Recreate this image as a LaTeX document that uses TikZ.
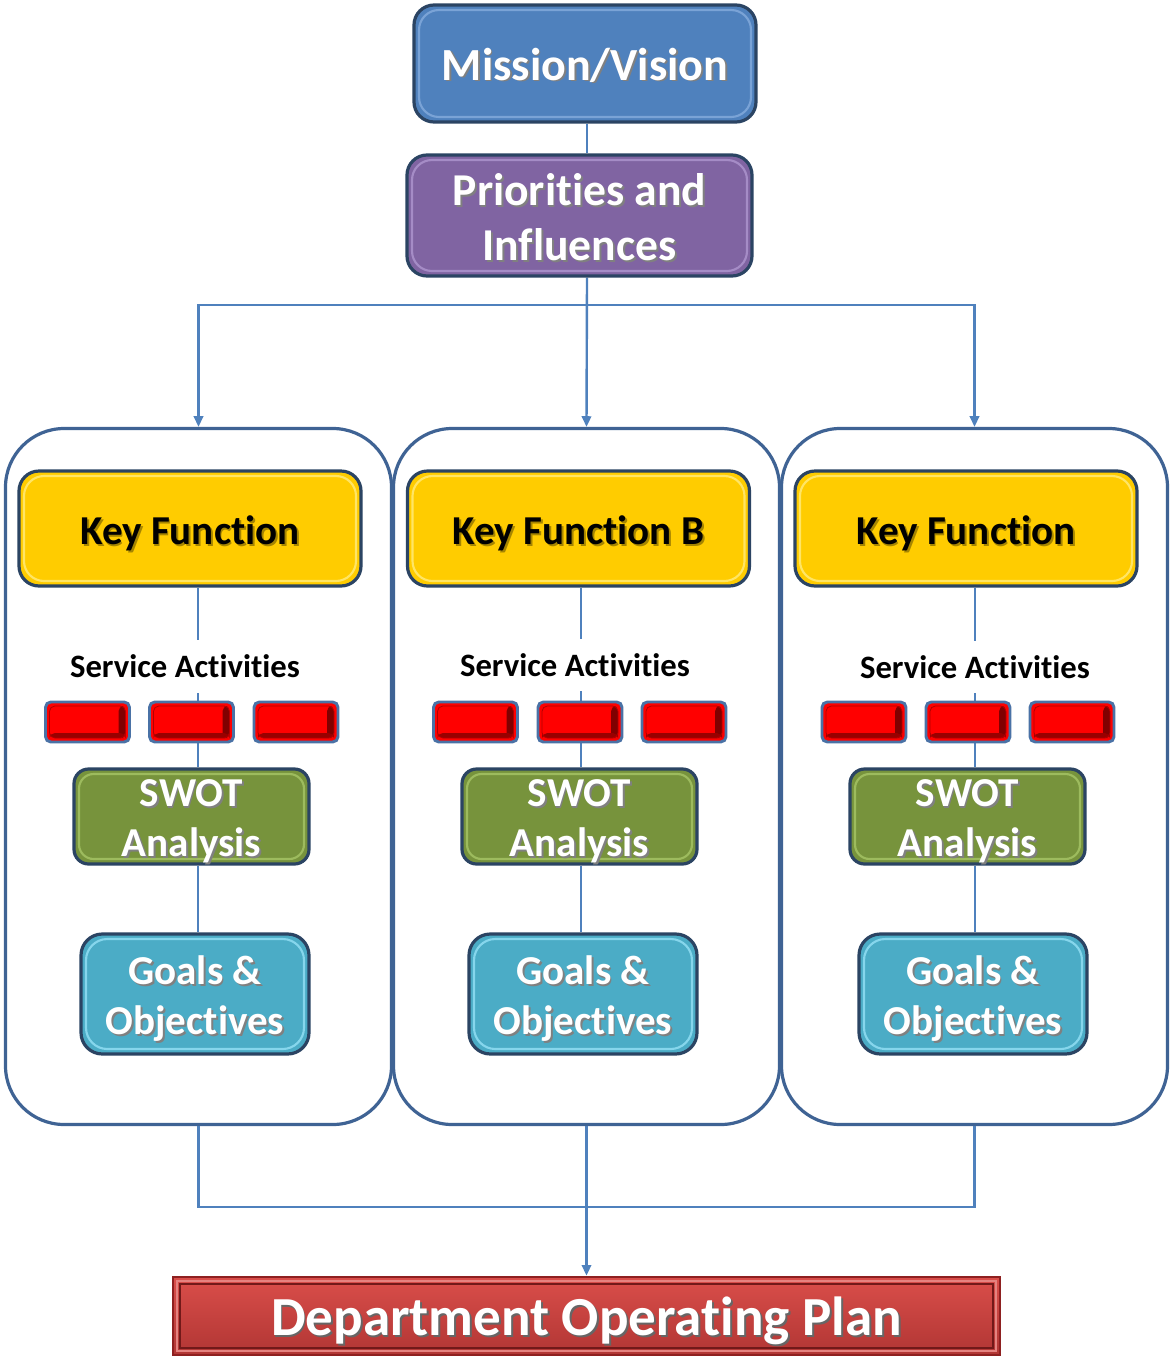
\documentclass[tikz,border=0pt]{standalone}
\usepackage{fontspec}
\setmainfont{Carlito}[Ligatures=NoCommon]
\usetikzlibrary{arrows.meta,backgrounds}
\definecolor{connc}{HTML}{4F81BD}
\definecolor{panelc}{HTML}{3F6394}
\definecolor{edgec}{HTML}{2B4463}
\definecolor{missc}{HTML}{4F81BD}
\definecolor{misshl}{HTML}{7AA3D6}
\definecolor{priorc}{HTML}{8064A2}
\definecolor{priorhl}{HTML}{A58CC6}
\definecolor{keyc}{HTML}{FFCC00}
\definecolor{keyhl}{HTML}{FFE566}
\definecolor{swotc}{HTML}{77933C}
\definecolor{swothl}{HTML}{9DBB5E}
\definecolor{goalc}{HTML}{4BACC6}
\definecolor{goalhl}{HTML}{86D6EC}
\definecolor{redbd}{HTML}{4A72A6}
\definecolor{plantop}{HTML}{DA4E4A}
\definecolor{planbot}{HTML}{B13634}
\definecolor{planbd}{HTML}{8E2020}
\newcommand{\PX}{0.75pt}
\newcommand{\lowerby}{4.2pt}
\newcommand{\shd}[2][black!50]{\leavevmode\raisebox{-\lowerby}[\height][\depth]{\rlap{\kern1.4pt\raisebox{-1.4pt}{\textcolor{#1}{#2}}}#2}}
\tikzset{
  bevelbox/.style n args={3}{fill=#1, draw=edgec, line width=2.4pt, inner sep=0pt,
    rounded corners=#3,
    path picture={\draw[#2, line width=1.6pt, rounded corners=#3]
      ([shift={(5,5)}]path picture bounding box.north west) rectangle
      ([shift={(-5,-5)}]path picture bounding box.south east);}},
  panelbox/.style={draw=panelc, line width=2.4pt, fill=white, rounded corners=44pt,
    minimum width=386*\PX, minimum height=696*\PX, inner sep=0pt},
  keybox/.style={bevelbox={keyc}{keyhl}{15pt}, minimum width=342*\PX, minimum height=115*\PX,
    font=\bfseries\fontsize{30.8pt}{36pt}\selectfont, text=black},
  swotbox/.style={bevelbox={swotc}{swothl}{11pt}, minimum width=235*\PX, minimum height=95*\PX,
    font=\bfseries\fontsize{30.8pt}{37.5pt}\selectfont, text=white, align=center},
  goalbox/.style={bevelbox={goalc}{goalhl}{16pt}, minimum width=228*\PX, minimum height=120*\PX,
    font=\bfseries\fontsize{30.8pt}{37.5pt}\selectfont, text=white, align=center},
  redbox/.style={fill=red, draw=redbd, line width=2.2pt, rounded corners=4pt,
    minimum width=84*\PX, minimum height=40*\PX, inner sep=0pt,
    path picture={
      \fill[red!50!black] ([shift={(-11,4)}]path picture bounding box.north east) rectangle
        ([shift={(-4,-4)}]path picture bounding box.south east);
      \fill[red!60!black] ([shift={(4,-9)}]path picture bounding box.south west) rectangle
        ([shift={(-4,-4)}]path picture bounding box.south east);
      \draw[red!70!black, line width=0.6pt] ([shift={(4,4)}]path picture bounding box.north west) rectangle
        ([shift={(-4,-4)}]path picture bounding box.south east);}},
  satext/.style={fill=white, minimum width=304*\PX, minimum height=52*\PX, inner sep=0pt,
    font=\bfseries\fontsize{24.5pt}{29pt}\selectfont, text=black},
  conn/.style={draw=connc, line width=1.8pt},
  arr/.style={conn, -{Triangle[length=8pt,width=7pt]}},
  toptext/.style={execute at begin node={\renewcommand{\lowerby}{1.8pt}}},
}
\begin{document}
\begin{tikzpicture}[x=0.75pt,y=-0.75pt]
\useasboundingbox (0,0) rectangle (1171,1357);

% panels
\begin{scope}[on background layer]
\node[panelbox] (pA) at (198.5,776.5) {};
\node[panelbox] (pB) at (586.5,776.5) {};
\node[panelbox] (pC) at (974.5,776.5) {};
\end{scope}

% top boxes
\node[bevelbox={missc}{misshl}{15pt}, minimum width=342*\PX, minimum height=117*\PX, toptext,
  font=\bfseries\fontsize{34.5pt}{41pt}\selectfont, text=white] (mission) at (585,63.5) {\shd{Mission/Vision}};
\node[bevelbox={priorc}{priorhl}{15pt}, minimum width=345*\PX, minimum height=121*\PX, toptext,
  font=\bfseries\fontsize{34.2pt}{41.5pt}\selectfont, text=white, align=center] (prior) at (579.5,215.5)
  {\shd{Priorities and}\\\shd{Influences}};

% key functions
\node[keybox] (kfA) at (190,528.5) {\shd[black!35!keyc]{Key Function}};
\node[keybox] (kfB) at (578.5,528.5) {\shd[black!35!keyc]{Key Function B}};
\node[keybox] (kfC) at (966,528.5) {\shd[black!35!keyc]{Key Function}};

% service activities
\node[satext] (saA) at (185,666.5) {Service Activities};
\node[satext] (saB) at (575,665) {Service Activities};
\node[satext] (saC) at (975,667) {Service Activities};

% red activity boxes
\node[redbox] (rA1) at (87.5,722) {};
\node[redbox] (rA2) at (191.5,722) {};
\node[redbox] (rA3) at (296,722) {};
\node[redbox] (rB1) at (475.5,722) {};
\node[redbox] (rB2) at (580,722) {};
\node[redbox] (rB3) at (684,722) {};
\node[redbox] (rC1) at (864,722) {};
\node[redbox] (rC2) at (968,722) {};
\node[redbox] (rC3) at (1072,722) {};

% SWOT
\node[swotbox] (swA) at (191.5,816.5) {\shd{SWOT}\\\shd{Analysis}};
\node[swotbox] (swB) at (579.5,816.5) {\shd{SWOT}\\\shd{Analysis}};
\node[swotbox] (swC) at (967.5,816.5) {\shd{SWOT}\\\shd{Analysis}};

% Goals
\node[goalbox] (goA) at (195,994) {\shd{Goals \&}\\\shd{Objectives}};
\node[goalbox] (goB) at (583,994) {\shd{Goals \&}\\\shd{Objectives}};
\node[goalbox] (goC) at (973,994) {\shd{Goals \&}\\\shd{Objectives}};

% plan
\node[fill=plantop, top color=plantop, bottom color=planbot, draw=planbd, line width=2pt,
  minimum width=827*\PX, minimum height=78*\PX, inner sep=0pt,
  font=\bfseries\fontsize{41.3pt}{48pt}\selectfont, text=white,
  path picture={\draw[planbd!80!black, line width=0.9pt]
      ([shift={(7,7)}]path picture bounding box.north west) rectangle
      ([shift={(-7,-7)}]path picture bounding box.south east);
    \draw[plantop!70!white, line width=0.8pt]
      ([shift={(4,4)}]path picture bounding box.north west) rectangle
      ([shift={(-4,-4)}]path picture bounding box.south east);}]
  (plan) at (586.5,1316) {\shd[black!60]{Department Operating Plan}};

% connectors
\coordinate (spine) at (587,0);
\coordinate (hub) at (587,305);
\coordinate (axA) at (198,0);
\coordinate (axB) at (581,0);
\coordinate (axC) at (975,0);
\coordinate (jn) at (587,1207);
\begin{scope}[on background layer]
\draw[conn] (mission.south -| spine) -- (prior.north -| spine);
\draw[arr] (prior.south -| spine) -- (pB.north);
\draw[arr] (hub) -| (pA.north);
\draw[arr] (hub) -| (pC.north);
\draw[conn] (kfA.south -| axA) -- (saA.north -| axA);
\draw[conn] (saA.south -| axA) -- (swA.north -| axA);
\draw[conn] (swA.south -| axA) -- (goA.north -| axA);
\draw[conn] (kfB.south -| axB) -- (saB.north -| axB);
\draw[conn] (saB.south -| axB) -- (swB.north -| axB);
\draw[conn] (swB.south -| axB) -- (goB.north -| axB);
\draw[conn] (kfC.south -| axC) -- (saC.north -| axC);
\draw[conn] (saC.south -| axC) -- (swC.north -| axC);
\draw[conn] (swC.south -| axC) -- (goC.north -| axC);
\draw[conn] (pA.south) |- (jn);
\draw[conn] (pC.south) |- (jn);
\draw[arr] (pB.south) -- (plan.north -| pB.south);
\end{scope}
\end{tikzpicture}
\end{document}
